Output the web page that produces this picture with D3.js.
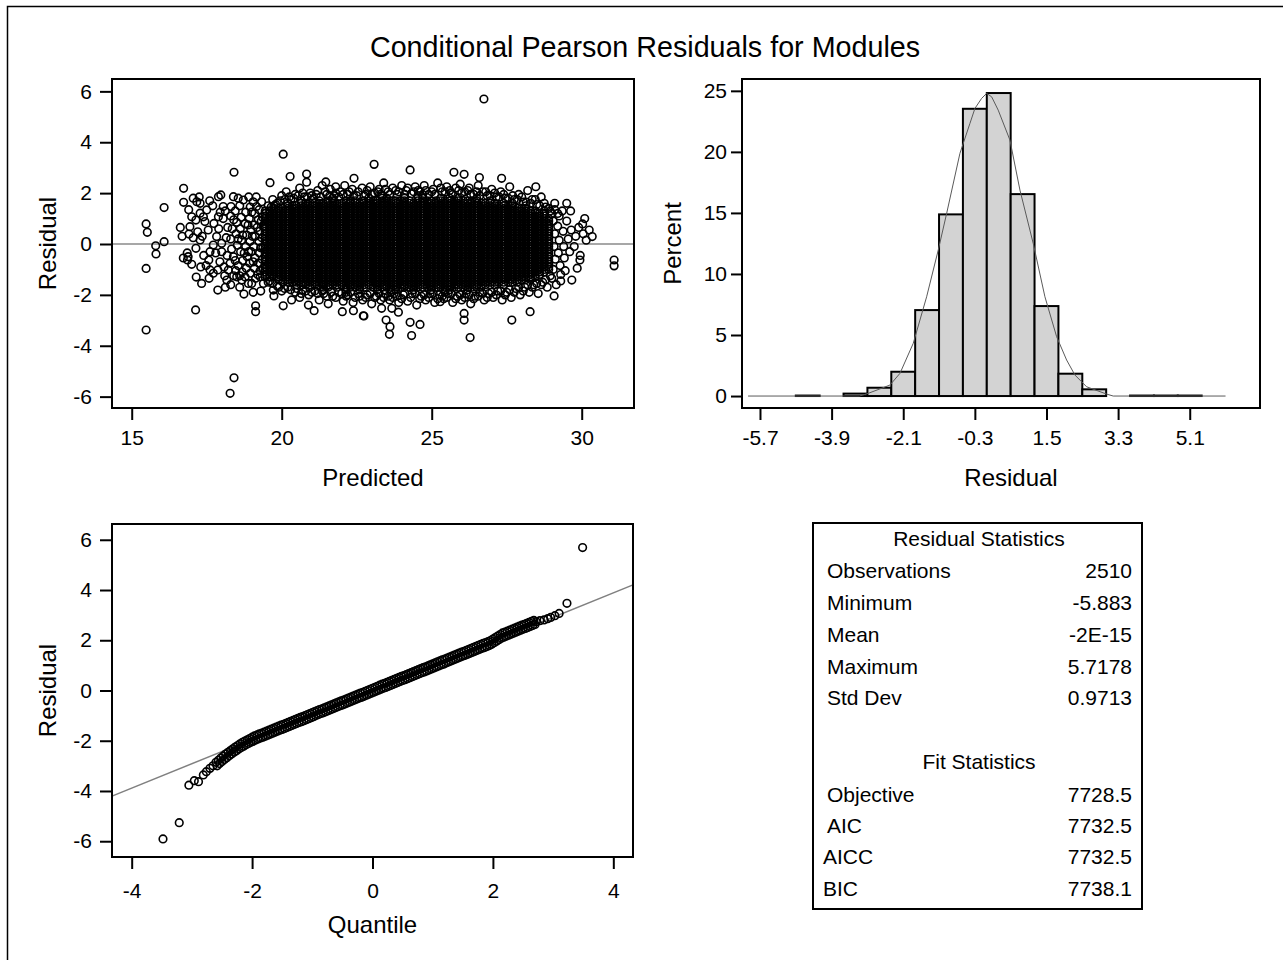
<!DOCTYPE html>
<html><head><meta charset="utf-8">
<script src="https://cdn.jsdelivr.net/npm/d3@7/dist/d3.min.js"></script>
<style>
body{margin:0;background:#fff}
svg{display:block}
</style>
</head><body>
<svg id="chart" width="1283" height="960"></svg>
<script>
// ---------------- DATA ----------------
const chartTitle = "Conditional Pearson Residuals for Modules";

// Residual vs Predicted: individual (sparse / edge) points [predicted, residual]
const sparsePoints = [
[15.48,0.79],[15.52,0.46],[15.8,-0.07],[15.81,-0.39],[16.08,0.09],[16.08,1.43],[15.48,-0.96],[15.48,-3.38],
[16.73,2.19],[16.73,1.64],[17.13,-2.59],[18.41,2.82],[18.28,-5.87],[18.41,-5.26],[16.85,-0.35],[16.88,-0.5],[16.86,-0.63],
[17.33,-1.55],[17.87,-1.81],[18.74,-1.97],[19.13,-2.43],[19.13,-2.66],[19.61,2.41],[20.05,3.53],[20.28,2.65],[20.83,2.75],
[20.83,2.43],[21.47,2.44],[21.8,2.25],[22.41,2.58],[20.05,-2.43],[19.74,-2.04],[20.33,-2.2],[20.89,-2.4],[21.08,-2.62],
[22.02,-2.66],[22.39,-2.62],[22.74,-2.83],[26.74,5.7],[23.08,3.13],[24.28,2.91],[25.74,2.82],[26.08,2.74],[26.59,2.61],
[27.33,2.58],[28.47,2.25],[29.63,1.3],[30.03,0.79],[30.35,0.29],[31.08,-0.63],[31.08,-0.86],[29.94,-0.63],[29.67,-1.42],
[29.08,-2.04],[28.28,-2.66],[27.67,-2.99],[26.28,-3.68],[26.08,-2.73],[26.08,-2.99],[25.28,-2.27],[24.33,-3.6],[24.28,-3.08],
[24.61,-3.16],[23.59,-3.55],[23.61,-3.25],[23.48,-2.99],[23.33,-2.53],[23.67,-2.53],[23.89,-2.68],[22.72,-2.82],
[16.91,0.39],[16.94,0.68],[17.05,1.8],[17.17,1.66],[17.28,1.6],[17.0,1.07],[17.14,0.94],[17.28,1.21],[17.39,1.07],[17.5,1.34],
[17.44,0.88],[17.28,0.16],[17.14,-0.17],[17.55,0.55],[17.61,-0.3],[17.57,-0.63],[17.61,-1.02],[17.58,-1.35],[17.72,-1.15],
[17.87,-1.02],[17.94,-0.7],[17.89,1.86],[17.97,1.93],[18.05,1.47],[17.89,1.07],[17.74,0.81],[17.83,0.29],[17.72,-0.04],
[18.0,0.03],[18.17,-1.42],[18.22,-1.02],[18.39,1.86],[18.55,1.8],[18.72,1.73],[18.31,1.47],[18.39,-0.5],[18.28,-0.76],
[18.5,-1.29],[18.67,-1.42],[18.89,-1.55],[19.05,1.66],[19.16,1.47],[19.33,1.66],[19.0,-1.55],[19.28,-1.29],[19.39,-1.55],[19.72,-1.81],
[18.3,1.1],[18.35,0.6],[18.3,0.2],[18.33,-0.2],[18.45,1.3],[18.5,0.85],[18.48,0.4],[18.52,-0.05],[18.55,-0.85],[18.47,-1.05],
[18.6,1.5],[18.65,1.05],[18.62,0.6],[18.66,0.15],[18.63,-0.3],[18.7,-0.65],[18.68,-1.1],[18.8,1.25],[18.78,0.8],[18.83,0.35],
[18.8,-0.1],[18.85,-0.5],[18.82,-0.95],[18.78,-1.3],[18.95,1.45],[18.92,1.0],[18.97,0.55],[18.94,0.1],[18.98,-0.3],[18.93,-0.75],
[18.96,-1.15],[19.1,1.2],[19.08,0.75],[19.12,0.3],[19.07,-0.1],[19.11,-0.55],[19.09,-0.95],[19.13,-1.35],[19.25,1.35],[19.22,0.95],
[19.27,0.5],[19.24,0.1],[19.26,-0.35],[19.23,-0.75],[19.28,-1.05],[19.36,1.05],[19.38,0.7],[19.34,0.25],[19.37,-0.15],[19.35,-0.6],
[19.38,-0.95],[18.4,-1.25],[18.2,0.65],[18.15,0.25],[18.12,1.3],[18.18,-0.45],[18.08,-0.9],[18.12,-1.7],[18.05,1.0],
[18.3,-1.6],[18.6,-1.7],[18.9,1.85],[19.15,1.85],[19.3,-1.85],[19.05,-1.9],
[18.4,0.95],[18.45,-0.65],[18.55,0.2],[18.6,-1.25],[18.7,0.35],[18.75,-0.35],[18.88,0.75],[18.9,-0.3],[19.0,1.25],[19.02,0.3],
[19.05,-0.7],[19.2,-1.2],[19.18,0.65],[19.3,-0.15],[19.32,0.9],
[16.62,0.65],[16.68,0.3],[16.72,-0.55],[17.05,0.25],[17.2,0.48],[17.35,0.3],[17.4,-0.45],[17.48,-0.85],[17.3,-0.9],[17.15,-1.3],
[17.0,-0.8],[17.8,-0.35],[17.9,0.6],[18.0,-0.3],[17.7,1.5],[17.6,1.7],[17.95,1.25],[18.1,-1.25],[16.9,1.35],[17.25,1.85],
[19.55,1.5],[19.7,1.75],[19.85,1.6],[20.0,1.9],[20.15,2.05],[20.3,1.75],[20.45,1.95],[20.6,2.2],[20.75,1.85],[20.95,2.0],
[21.05,1.78],[21.2,2.1],[21.35,2.3],[21.5,1.95],[21.62,2.15],[21.75,1.9],[21.95,2.05],[22.1,2.3],[22.2,1.95],[22.35,2.15],
[22.5,1.9],[22.68,2.2],[22.8,1.95],[22.95,2.25],[23.1,2.0],[23.25,2.15],[23.4,2.4],[23.55,2.05],[23.7,2.2],[23.85,1.95],
[24.0,2.3],[24.15,2.1],[24.32,1.98],[24.45,2.25],[24.6,2.05],[24.75,2.3],[24.9,1.95],[25.05,2.15],[25.2,2.4],[25.35,2.05],
[25.5,2.25],[25.65,2.0],[25.8,2.2],[25.95,2.35],[26.1,2.05],[26.25,2.2],[26.4,1.95],[26.55,2.3],[26.7,2.05],[26.85,1.9],
[27.0,2.15],[27.15,1.85],[27.3,2.05],[27.45,1.8],[27.6,2.25],[27.75,1.75],[27.9,1.95],[28.05,1.65],[28.2,2.1],[28.35,1.75],
[28.5,1.55],[28.65,1.85],[28.8,1.45],[28.95,1.3],[29.1,1.6],[29.25,1.1],
[19.65,1.45],[19.8,1.55],[19.95,1.7],[20.1,1.75],[20.25,1.85],[20.4,1.8],[20.55,1.9],[20.7,2.0],[20.85,1.85],[21.0,1.9],
[21.15,1.95],[21.3,1.85],[21.45,2.05],[21.6,1.9],[21.8,2.0],[21.9,1.85],[22.05,1.95],[22.25,2.05],[22.4,1.9],[22.55,2.05],
[22.75,1.9],[22.85,2.1],[23.0,1.95],[23.2,2.05],[23.3,1.95],[23.45,2.15],[23.6,1.95],[23.8,2.1],[23.9,2.05],[24.1,1.95],
[24.2,2.2],[24.4,2.05],[24.55,2.1],[24.7,1.95],[24.8,2.1],[25.0,2.05],[25.1,1.95],[25.3,2.2],[25.45,2.05],[25.6,2.1],
[25.7,1.95],[25.9,2.1],[26.0,2.0],[26.2,2.1],[26.3,1.95],[26.5,2.05],[26.6,1.9],[26.8,2.05],[26.95,1.9],[27.1,2.0],
[27.25,1.85],[27.4,1.95],[27.55,1.8],[27.7,1.9],[27.85,1.75],[28.0,1.85],[28.15,1.65],[28.3,1.6],[28.45,1.75],[28.6,1.5],
[28.75,1.6],[28.9,1.4],[29.0,1.2],
[19.6,-1.45],[19.85,-1.65],[20.0,-1.85],[20.2,-1.7],[20.45,-1.9],[20.6,-2.1],[20.7,-1.8],[20.9,-2.0],[21.1,-1.85],[21.25,-2.2],
[21.4,-1.95],[21.55,-2.35],[21.7,-2.05],[21.9,-1.9],[22.05,-2.25],[22.2,-2.0],[22.38,-2.3],[22.55,-1.95],[22.7,-2.2],[22.85,-2.0],
[23.0,-2.35],[23.15,-2.05],[23.3,-2.2],[23.45,-1.95],[23.6,-2.2],[23.75,-1.95],[23.9,-2.3],[24.05,-2.0],[24.2,-2.25],[24.35,-1.95],
[24.5,-2.4],[24.65,-2.05],[24.8,-2.2],[24.95,-1.95],[25.1,-2.3],[25.25,-2.0],[25.4,-2.15],[25.55,-1.95],[25.7,-2.3],[25.85,-2.05],
[26.0,-2.2],[26.15,-1.95],[26.3,-2.35],[26.45,-2.05],[26.6,-1.9],[26.75,-2.2],[26.9,-1.95],[27.05,-2.1],[27.2,-1.85],[27.35,-2.2],
[27.5,-1.9],[27.65,-2.1],[27.8,-1.75],[27.95,-2.0],[28.1,-1.7],[28.25,-1.9],[28.4,-1.6],[28.55,-1.95],[28.7,-1.5],[28.85,-1.7],
[29.0,-1.35],[29.15,-1.6],[29.3,-1.2],
[19.55,-1.5],[19.7,-1.55],[19.9,-1.7],[20.1,-1.75],[20.3,-1.8],[20.5,-1.75],[20.65,-1.95],[20.8,-1.85],[21.0,-1.9],[21.2,-1.95],
[21.35,-1.85],[21.5,-2.05],[21.65,-1.9],[21.8,-2.1],[22.0,-1.95],[22.15,-2.05],[22.3,-1.9],[22.45,-2.1],[22.6,-2.05],[22.8,-2.1],
[22.95,-1.95],[23.1,-2.1],[23.25,-1.95],[23.4,-2.1],[23.55,-2.05],[23.7,-2.1],[23.85,-2.05],[24.0,-2.15],[24.1,-1.95],[24.3,-2.1],
[24.45,-1.95],[24.6,-2.15],[24.75,-2.0],[24.9,-2.1],[25.05,-1.95],[25.2,-2.15],[25.35,-2.05],[25.5,-2.1],[25.65,-1.95],[25.8,-2.15],
[25.95,-2.0],[26.1,-2.1],[26.25,-2.0],[26.4,-2.15],[26.55,-2.05],[26.7,-1.95],[26.85,-2.1],[27.0,-1.9],[27.15,-2.0],[27.3,-1.85],
[27.45,-2.0],[27.6,-1.8],[27.75,-1.9],[27.9,-1.7],[28.05,-1.85],[28.2,-1.6],[28.35,-1.7],[28.5,-1.55],[28.65,-1.6],[28.8,-1.4],[28.95,-1.25],
[29.05,0.9],[29.1,0.4],[29.08,-0.1],[29.12,-0.6],[29.05,-1.0],[29.2,0.7],[29.25,0.15],[29.22,-0.35],[29.28,-0.85],[29.35,1.3],
[29.38,0.5],[29.4,-0.1],[29.42,-0.55],[29.5,0.9],[29.55,0.2],[29.6,-0.3],[29.65,0.55],[29.75,-0.1],[29.8,0.3],[29.9,0.65],
[29.95,-0.45],[30.05,0.4],[30.15,0.15],[30.25,0.55],[29.3,-1.45],[29.45,-1.05],[29.2,1.2],[29.1,1.35],[29.5,1.6],[30.1,1.0],[29.85,-0.95]
];

// Dense core of the cloud: predicted value of each column and the residuals in it
const corePredicted = [19.45,19.6,19.74,19.9,20.04,20.2,20.35,20.49,20.65,20.8,20.94,21.1,21.25,21.39,21.55,21.7,21.84,22.0,22.15,22.29,
22.45,22.6,22.74,22.9,23.05,23.19,23.35,23.5,23.64,23.8,23.95,24.09,24.25,24.4,24.54,24.7,24.85,24.99,25.15,25.3,
25.44,25.6,25.75,25.89,26.05,26.2,26.34,26.5,26.65,26.79,26.95,27.1,27.24,27.4,27.55,27.69,27.85,28.0,28.14,28.3,
28.45,28.59,28.75,28.9];
const coreResiduals = [
"-1.3 -1.2 -1.1 -1 -.9 -.8 -.7 -.6 -.5 -.4 -.3 -.2 -.1 0 .1 .2 .3 .4 .5 .6 .7 .8 .9 1 1.1 1.2 1.3",
"-1.3 -1.2 -1.1 -1 -.9 -.8 -.7 -.6 -.5 -.4 -.3 -.2 -.1 0 .1 .2 .3 .4 .5 .6 .7 .8 .9 1 1.1 1.2 1.3",
"-1.3 -1.2 -1.1 -1 -.9 -.8 -.7 -.6 -.5 -.4 -.3 -.2 -.1 0 .1 .2 .3 .4 .5 .6 .7 .8 .9 1 1.1 1.2 1.3 1.4 1.5",
"-1.4 -1.3 -1.2 -1.1 -1 -.9 -.8 -.7 -.6 -.5 -.4 -.3 -.2 -.1 0 .1 .2 .3 .4 .5 .6 .7 .8 .9 1 1.1 1.2 1.3 1.4",
"-1.5 -1.4 -1.3 -1.2 -1.1 -1 -.9 -.8 -.7 -.6 -.5 -.4 -.3 -.2 -.1 0 .1 .2 .3 .4 .5 .6 .7 .8 .9 1 1.1 1.2 1.3 1.4",
"-1.5 -1.4 -1.3 -1.2 -1.1 -1 -.9 -.8 -.7 -.6 -.5 -.4 -.3 -.2 -.1 0 .1 .2 .3 .4 .5 .6 .7 .8 .9 1 1.1 1.2 1.3 1.4 1.5 1.6",
"-1.5 -1.4 -1.3 -1.2 -1.1 -1 -.9 -.8 -.7 -.6 -.5 -.4 -.3 -.2 -.1 0 .1 .2 .3 .4 .5 .6 .7 .8 .9 1 1.1 1.2 1.3 1.4 1.5",
"-1.6 -1.5 -1.4 -1.3 -1.2 -1.1 -1 -.9 -.8 -.7 -.6 -.5 -.4 -.3 -.2 -.1 0 .1 .2 .3 .4 .5 .6 .7 .8 .9 1 1.1 1.2 1.3 1.4 1.5",
"-1.6 -1.5 -1.4 -1.3 -1.2 -1.1 -1 -.9 -.8 -.7 -.6 -.5 -.4 -.3 -.2 -.1 0 .1 .2 .3 .4 .5 .6 .7 .8 .9 1 1.1 1.2 1.3 1.4 1.5 1.6 1.7",
"-1.6 -1.5 -1.4 -1.3 -1.2 -1.1 -1 -.9 -.8 -.7 -.6 -.5 -.4 -.3 -.2 -.1 0 .1 .2 .3 .4 .5 .6 .7 .8 .9 1 1.1 1.2 1.3 1.4 1.5 1.6",
"-1.7 -1.6 -1.5 -1.4 -1.3 -1.2 -1.1 -1 -.9 -.8 -.7 -.6 -.5 -.4 -.3 -.2 -.1 0 .1 .2 .3 .4 .5 .6 .7 .8 .9 1 1.1 1.2 1.3 1.4 1.5 1.6",
"-1.6 -1.5 -1.4 -1.3 -1.2 -1.1 -1 -.9 -.8 -.7 -.6 -.5 -.4 -.3 -.2 -.1 0 .1 .2 .3 .4 .5 .6 .7 .8 .9 1 1.1 1.2 1.3 1.4 1.5 1.6",
"-1.6 -1.5 -1.4 -1.3 -1.2 -1.1 -1 -.9 -.8 -.7 -.6 -.5 -.4 -.3 -.2 -.1 0 .1 .2 .3 .4 .5 .6 .7 .8 .9 1 1.1 1.2 1.3 1.4 1.5 1.6 1.7",
"-1.8 -1.7 -1.6 -1.5 -1.4 -1.3 -1.2 -1.1 -1 -.9 -.8 -.7 -.6 -.5 -.4 -.3 -.2 -.1 0 .1 .2 .3 .4 .5 .6 .7 .8 .9 1 1.1 1.2 1.3 1.4 1.5 1.6",
"-1.7 -1.6 -1.5 -1.4 -1.3 -1.2 -1.1 -1 -.9 -.8 -.7 -.6 -.5 -.4 -.3 -.2 -.1 0 .1 .2 .3 .4 .5 .6 .7 .8 .9 1 1.1 1.2 1.3 1.4 1.5 1.6 1.7",
"-1.6 -1.5 -1.4 -1.3 -1.2 -1.1 -1 -.9 -.8 -.7 -.6 -.5 -.4 -.3 -.2 -.1 0 .1 .2 .3 .4 .5 .6 .7 .8 .9 1 1.1 1.2 1.3 1.4 1.5 1.6 1.7 1.8",
"-1.7 -1.6 -1.5 -1.4 -1.3 -1.2 -1.1 -1 -.9 -.8 -.7 -.6 -.5 -.4 -.3 -.2 -.1 0 .1 .2 .3 .4 .5 .6 .7 .8 .9 1 1.1 1.2 1.3 1.4 1.5 1.6",
"-1.6 -1.5 -1.4 -1.3 -1.2 -1.1 -1 -.9 -.8 -.7 -.6 -.5 -.4 -.3 -.2 -.1 0 .1 .2 .3 .4 .5 .6 .7 .8 .9 1 1.1 1.2 1.3 1.4 1.5 1.6",
"-1.9 -1.8 -1.7 -1.6 -1.5 -1.4 -1.3 -1.2 -1.1 -1 -.9 -.8 -.7 -.6 -.5 -.4 -.3 -.2 -.1 0 .1 .2 .3 .4 .5 .6 .7 .8 .9 1 1.1 1.2 1.3 1.4 1.5 1.6 1.7",
"-1.7 -1.6 -1.5 -1.4 -1.3 -1.2 -1.1 -1 -.9 -.8 -.7 -.6 -.5 -.4 -.3 -.2 -.1 0 .1 .2 .3 .4 .5 .6 .7 .8 .9 1 1.1 1.2 1.3 1.4 1.5 1.6 1.7",
"-1.7 -1.6 -1.5 -1.4 -1.3 -1.2 -1.1 -1 -.9 -.8 -.7 -.6 -.5 -.4 -.3 -.2 -.1 0 .1 .2 .3 .4 .5 .6 .7 .8 .9 1 1.1 1.2 1.3 1.4 1.5 1.6 1.7",
"-1.8 -1.7 -1.6 -1.5 -1.4 -1.3 -1.2 -1.1 -1 -.9 -.8 -.7 -.6 -.5 -.4 -.3 -.2 -.1 0 .1 .2 .3 .4 .5 .6 .7 .8 .9 1 1.1 1.2 1.3 1.4 1.5 1.6",
"-1.7 -1.6 -1.5 -1.4 -1.3 -1.2 -1.1 -1 -.9 -.8 -.7 -.6 -.5 -.4 -.3 -.2 -.1 0 .1 .2 .3 .4 .5 .6 .7 .8 .9 1 1.1 1.2 1.3 1.4 1.5 1.6 1.7",
"-1.6 -1.5 -1.4 -1.3 -1.2 -1.1 -1 -.9 -.8 -.7 -.6 -.5 -.4 -.3 -.2 -.1 0 .1 .2 .3 .4 .5 .6 .7 .8 .9 1 1.1 1.2 1.3 1.4 1.5 1.6 1.7 1.8",
"-1.7 -1.6 -1.5 -1.4 -1.3 -1.2 -1.1 -1 -.9 -.8 -.7 -.6 -.5 -.4 -.3 -.2 -.1 0 .1 .2 .3 .4 .5 .6 .7 .8 .9 1 1.1 1.2 1.3 1.4 1.5 1.6 1.7",
"-1.8 -1.7 -1.6 -1.5 -1.4 -1.3 -1.2 -1.1 -1 -.9 -.8 -.7 -.6 -.5 -.4 -.3 -.2 -.1 0 .1 .2 .3 .4 .5 .6 .7 .8 .9 1 1.1 1.2 1.3 1.4 1.5 1.6 1.7",
"-1.7 -1.6 -1.5 -1.4 -1.3 -1.2 -1.1 -1 -.9 -.8 -.7 -.6 -.5 -.4 -.3 -.2 -.1 0 .1 .2 .3 .4 .5 .6 .7 .8 .9 1 1.1 1.2 1.3 1.4 1.5 1.6 1.7 1.8 1.9",
"-1.7 -1.6 -1.5 -1.4 -1.3 -1.2 -1.1 -1 -.9 -.8 -.7 -.6 -.5 -.4 -.3 -.2 -.1 0 .1 .2 .3 .4 .5 .6 .7 .8 .9 1 1.1 1.2 1.3 1.4 1.5 1.6 1.7 1.8",
"-1.9 -1.8 -1.7 -1.6 -1.5 -1.4 -1.3 -1.2 -1.1 -1 -.9 -.8 -.7 -.6 -.5 -.4 -.3 -.2 -.1 0 .1 .2 .3 .4 .5 .6 .7 .8 .9 1 1.1 1.2 1.3 1.4 1.5 1.6 1.7",
"-1.8 -1.7 -1.6 -1.5 -1.4 -1.3 -1.2 -1.1 -1 -.9 -.8 -.7 -.6 -.5 -.4 -.3 -.2 -.1 0 .1 .2 .3 .4 .5 .6 .7 .8 .9 1 1.1 1.2 1.3 1.4 1.5 1.6 1.7",
"-1.7 -1.6 -1.5 -1.4 -1.3 -1.2 -1.1 -1 -.9 -.8 -.7 -.6 -.5 -.4 -.3 -.2 -.1 0 .1 .2 .3 .4 .5 .6 .7 .8 .9 1 1.1 1.2 1.3 1.4 1.5 1.6 1.7",
"-1.7 -1.6 -1.5 -1.4 -1.3 -1.2 -1.1 -1 -.9 -.8 -.7 -.6 -.5 -.4 -.3 -.2 -.1 0 .1 .2 .3 .4 .5 .6 .7 .8 .9 1 1.1 1.2 1.3 1.4 1.5 1.6 1.7 1.8",
"-1.7 -1.6 -1.5 -1.4 -1.3 -1.2 -1.1 -1 -.9 -.8 -.7 -.6 -.5 -.4 -.3 -.2 -.1 0 .1 .2 .3 .4 .5 .6 .7 .8 .9 1 1.1 1.2 1.3 1.4 1.5 1.6 1.7",
"-1.8 -1.7 -1.6 -1.5 -1.4 -1.3 -1.2 -1.1 -1 -.9 -.8 -.7 -.6 -.5 -.4 -.3 -.2 -.1 0 .1 .2 .3 .4 .5 .6 .7 .8 .9 1 1.1 1.2 1.3 1.4 1.5 1.6",
"-1.7 -1.6 -1.5 -1.4 -1.3 -1.2 -1.1 -1 -.9 -.8 -.7 -.6 -.5 -.4 -.3 -.2 -.1 0 .1 .2 .3 .4 .5 .6 .7 .8 .9 1 1.1 1.2 1.3 1.4 1.5 1.6 1.7 1.8 1.9",
"-1.7 -1.6 -1.5 -1.4 -1.3 -1.2 -1.1 -1 -.9 -.8 -.7 -.6 -.5 -.4 -.3 -.2 -.1 0 .1 .2 .3 .4 .5 .6 .7 .8 .9 1 1.1 1.2 1.3 1.4 1.5 1.6 1.7 1.8",
"-1.7 -1.6 -1.5 -1.4 -1.3 -1.2 -1.1 -1 -.9 -.8 -.7 -.6 -.5 -.4 -.3 -.2 -.1 0 .1 .2 .3 .4 .5 .6 .7 .8 .9 1 1.1 1.2 1.3 1.4 1.5 1.6 1.7",
"-1.8 -1.7 -1.6 -1.5 -1.4 -1.3 -1.2 -1.1 -1 -.9 -.8 -.7 -.6 -.5 -.4 -.3 -.2 -.1 0 .1 .2 .3 .4 .5 .6 .7 .8 .9 1 1.1 1.2 1.3 1.4 1.5 1.6 1.7",
"-1.7 -1.6 -1.5 -1.4 -1.3 -1.2 -1.1 -1 -.9 -.8 -.7 -.6 -.5 -.4 -.3 -.2 -.1 0 .1 .2 .3 .4 .5 .6 .7 .8 .9 1 1.1 1.2 1.3 1.4 1.5 1.6 1.7",
"-1.7 -1.6 -1.5 -1.4 -1.3 -1.2 -1.1 -1 -.9 -.8 -.7 -.6 -.5 -.4 -.3 -.2 -.1 0 .1 .2 .3 .4 .5 .6 .7 .8 .9 1 1.1 1.2 1.3 1.4 1.5 1.6 1.7 1.8",
"-1.9 -1.8 -1.7 -1.6 -1.5 -1.4 -1.3 -1.2 -1.1 -1 -.9 -.8 -.7 -.6 -.5 -.4 -.3 -.2 -.1 0 .1 .2 .3 .4 .5 .6 .7 .8 .9 1 1.1 1.2 1.3 1.4 1.5 1.6 1.7",
"-1.8 -1.7 -1.6 -1.5 -1.4 -1.3 -1.2 -1.1 -1 -.9 -.8 -.7 -.6 -.5 -.4 -.3 -.2 -.1 0 .1 .2 .3 .4 .5 .6 .7 .8 .9 1 1.1 1.2 1.3 1.4 1.5 1.6 1.7 1.8",
"-1.7 -1.6 -1.5 -1.4 -1.3 -1.2 -1.1 -1 -.9 -.8 -.7 -.6 -.5 -.4 -.3 -.2 -.1 0 .1 .2 .3 .4 .5 .6 .7 .8 .9 1 1.1 1.2 1.3 1.4 1.5 1.6 1.7",
"-1.7 -1.6 -1.5 -1.4 -1.3 -1.2 -1.1 -1 -.9 -.8 -.7 -.6 -.5 -.4 -.3 -.2 -.1 0 .1 .2 .3 .4 .5 .6 .7 .8 .9 1 1.1 1.2 1.3 1.4 1.5 1.6 1.7 1.8",
"-1.7 -1.6 -1.5 -1.4 -1.3 -1.2 -1.1 -1 -.9 -.8 -.7 -.6 -.5 -.4 -.3 -.2 -.1 0 .1 .2 .3 .4 .5 .6 .7 .8 .9 1 1.1 1.2 1.3 1.4 1.5 1.6 1.7",
"-1.8 -1.7 -1.6 -1.5 -1.4 -1.3 -1.2 -1.1 -1 -.9 -.8 -.7 -.6 -.5 -.4 -.3 -.2 -.1 0 .1 .2 .3 .4 .5 .6 .7 .8 .9 1 1.1 1.2 1.3 1.4 1.5 1.6 1.7",
"-1.7 -1.6 -1.5 -1.4 -1.3 -1.2 -1.1 -1 -.9 -.8 -.7 -.6 -.5 -.4 -.3 -.2 -.1 0 .1 .2 .3 .4 .5 .6 .7 .8 .9 1 1.1 1.2 1.3 1.4 1.5 1.6 1.7",
"-1.7 -1.6 -1.5 -1.4 -1.3 -1.2 -1.1 -1 -.9 -.8 -.7 -.6 -.5 -.4 -.3 -.2 -.1 0 .1 .2 .3 .4 .5 .6 .7 .8 .9 1 1.1 1.2 1.3 1.4 1.5 1.6 1.7 1.8",
"-1.7 -1.6 -1.5 -1.4 -1.3 -1.2 -1.1 -1 -.9 -.8 -.7 -.6 -.5 -.4 -.3 -.2 -.1 0 .1 .2 .3 .4 .5 .6 .7 .8 .9 1 1.1 1.2 1.3 1.4 1.5 1.6",
"-1.6 -1.5 -1.4 -1.3 -1.2 -1.1 -1 -.9 -.8 -.7 -.6 -.5 -.4 -.3 -.2 -.1 0 .1 .2 .3 .4 .5 .6 .7 .8 .9 1 1.1 1.2 1.3 1.4 1.5 1.6",
"-1.6 -1.5 -1.4 -1.3 -1.2 -1.1 -1 -.9 -.8 -.7 -.6 -.5 -.4 -.3 -.2 -.1 0 .1 .2 .3 .4 .5 .6 .7 .8 .9 1 1.1 1.2 1.3 1.4 1.5 1.6 1.7",
"-1.6 -1.5 -1.4 -1.3 -1.2 -1.1 -1 -.9 -.8 -.7 -.6 -.5 -.4 -.3 -.2 -.1 0 .1 .2 .3 .4 .5 .6 .7 .8 .9 1 1.1 1.2 1.3 1.4 1.5 1.6",
"-1.5 -1.4 -1.3 -1.2 -1.1 -1 -.9 -.8 -.7 -.6 -.5 -.4 -.3 -.2 -.1 0 .1 .2 .3 .4 .5 .6 .7 .8 .9 1 1.1 1.2 1.3 1.4 1.5",
"-1.6 -1.5 -1.4 -1.3 -1.2 -1.1 -1 -.9 -.8 -.7 -.6 -.5 -.4 -.3 -.2 -.1 0 .1 .2 .3 .4 .5 .6 .7 .8 .9 1 1.1 1.2 1.3 1.4 1.5 1.6",
"-1.5 -1.4 -1.3 -1.2 -1.1 -1 -.9 -.8 -.7 -.6 -.5 -.4 -.3 -.2 -.1 0 .1 .2 .3 .4 .5 .6 .7 .8 .9 1 1.1 1.2 1.3 1.4 1.5",
"-1.5 -1.4 -1.3 -1.2 -1.1 -1 -.9 -.8 -.7 -.6 -.5 -.4 -.3 -.2 -.1 0 .1 .2 .3 .4 .5 .6 .7 .8 .9 1 1.1 1.2 1.3 1.4 1.5 1.6",
"-1.5 -1.4 -1.3 -1.2 -1.1 -1 -.9 -.8 -.7 -.6 -.5 -.4 -.3 -.2 -.1 0 .1 .2 .3 .4 .5 .6 .7 .8 .9 1 1.1 1.2 1.3 1.4",
"-1.4 -1.3 -1.2 -1.1 -1 -.9 -.8 -.7 -.6 -.5 -.4 -.3 -.2 -.1 0 .1 .2 .3 .4 .5 .6 .7 .8 .9 1 1.1 1.2 1.3 1.4",
"-1.4 -1.3 -1.2 -1.1 -1 -.9 -.8 -.7 -.6 -.5 -.4 -.3 -.2 -.1 0 .1 .2 .3 .4 .5 .6 .7 .8 .9 1 1.1 1.2 1.3 1.4 1.5",
"-1.4 -1.3 -1.2 -1.1 -1 -.9 -.8 -.7 -.6 -.5 -.4 -.3 -.2 -.1 0 .1 .2 .3 .4 .5 .6 .7 .8 .9 1 1.1 1.2 1.3",
"-1.3 -1.2 -1.1 -1 -.9 -.8 -.7 -.6 -.5 -.4 -.3 -.2 -.1 0 .1 .2 .3 .4 .5 .6 .7 .8 .9 1 1.1 1.2 1.3",
"-1.2 -1.1 -1 -.9 -.8 -.7 -.6 -.5 -.4 -.3 -.2 -.1 0 .1 .2 .3 .4 .5 .6 .7 .8 .9 1 1.1 1.2",
"-1.1 -1 -.9 -.8 -.7 -.6 -.5 -.4 -.3 -.2 -.1 0 .1 .2 .3 .4 .5 .6 .7 .8 .9 1 1.1 1.2 1.3",
"-1 -.9 -.8 -.7 -.6 -.5 -.4 -.3 -.2 -.1 0 .1 .2 .3 .4 .5 .6 .7 .8 .9 1"
];

const scatterXTicks = [15, 20, 25, 30];
const residualYTicks = [-6, -4, -2, 0, 2, 4, 6];

// Histogram of residuals: bin midpoints (width 0.6) and percent
const binWidth = 0.6;
const binMidpoints = [-4.5, -3.3, -2.7, -2.1, -1.5, -0.9, -0.3, 0.3, 0.9, 1.5, 2.1, 2.7, 3.9, 4.5, 5.1];
const binPercent   = [0.04, 0.2, 0.68, 1.99, 7.04, 14.88, 23.53, 24.82, 16.54, 7.37, 1.83, 0.55, 0.04, 0.04, 0.04];
// density curve over the histogram
const densityX = [-6.0, -3.2, -2.979, -2.434, -2.182, -1.848, -1.512, -1.22, -1.009, -0.675, -0.424, -0.298, -0.13, -0.004, 0.122, 0.287, 0.581, 0.833, 1.167, 1.461, 1.755, 2.006, 2.215, 2.508, 3.011, 3.177, 6.0];
const densityY = [0, 0, 0.22, 0.9, 1.86, 4.32, 8.13, 11.96, 14.96, 19.88, 22.33, 23.56, 24.38, 24.79, 24.51, 23.42, 20.97, 16.87, 12.5, 8.13, 4.86, 2.95, 1.72, 0.76, 0.16, 0, 0];
const histXTicks = [-5.7, -3.9, -2.1, -0.3, 1.5, 3.3, 5.1];
const histYTicks = [0, 5, 10, 15, 20, 25];

// Q-Q plot points [normal quantile, residual]
const qqPoints = [
[-3.48,-5.91],[-3.21,-5.26],[-3.05,-3.77],[-2.96,-3.59],[-2.89,-3.63],[-2.81,-3.36],[-2.76,-3.23],[-2.7,-3.1],[-2.65,-3.0],
[-2.6,-2.86],[-2.58,-3.0],[-2.56,-2.78],[-2.54,-2.91],[-2.52,-2.69],[-2.5,-2.83],[-2.48,-2.61],[-2.46,-2.75],[-2.44,-2.53],[-2.42,-2.68],
[-2.4,-2.46],[-2.38,-2.6],[-2.36,-2.39],[-2.34,-2.53],[-2.32,-2.32],[-2.3,-2.46],[-2.28,-2.25],[-2.26,-2.4],[-2.24,-2.19],[-2.22,-2.33],
[-2.2,-2.12],[-2.18,-2.27],[-2.16,-2.06],[-2.14,-2.22],[-2.12,-2.01],[-2.1,-2.16],[-2.08,-1.96],[-2.06,-2.11],[-2.04,-1.91],[-2.02,-2.06],
[-2,-1.86],[-1.98,-2.02],[-1.96,-1.81],[-1.94,-1.97],[-1.92,-1.77],[-1.9,-1.93],[-1.88,-1.73],[-1.86,-1.89],[-1.84,-1.7],[-1.82,-1.86],
[-1.8,-1.66],[-1.78,-1.82],[-1.76,-1.62],[-1.74,-1.78],[-1.72,-1.58],[-1.7,-1.74],[-1.68,-1.54],[-1.66,-1.7],[-1.64,-1.5],[-1.62,-1.66],
[-1.6,-1.46],[-1.58,-1.62],[-1.56,-1.42],[-1.54,-1.58],[-1.52,-1.38],[-1.5,-1.55],[-1.48,-1.35],[-1.46,-1.51],[-1.44,-1.31],[-1.42,-1.47],
[-1.4,-1.27],[-1.38,-1.43],[-1.36,-1.23],[-1.34,-1.39],[-1.32,-1.19],[-1.3,-1.35],[-1.28,-1.15],[-1.26,-1.31],[-1.24,-1.11],[-1.22,-1.27],
[-1.2,-1.07],[-1.18,-1.24],[-1.16,-1.04],[-1.14,-1.2],[-1.12,-1.0],[-1.1,-1.16],[-1.08,-0.96],[-1.06,-1.12],[-1.04,-0.92],[-1.02,-1.08],
[-1,-0.88],[-0.98,-1.04],[-0.96,-0.84],[-0.94,-1.0],[-0.92,-0.8],[-0.9,-0.96],[-0.88,-0.76],[-0.86,-0.92],[-0.84,-0.73],[-0.82,-0.89],
[-0.8,-0.69],[-0.78,-0.85],[-0.76,-0.65],[-0.74,-0.81],[-0.72,-0.61],[-0.7,-0.77],[-0.68,-0.57],[-0.66,-0.73],[-0.64,-0.53],[-0.62,-0.69],
[-0.6,-0.49],[-0.58,-0.65],[-0.56,-0.45],[-0.54,-0.61],[-0.52,-0.41],[-0.5,-0.58],[-0.48,-0.38],[-0.46,-0.54],[-0.44,-0.34],[-0.42,-0.5],
[-0.4,-0.3],[-0.38,-0.46],[-0.36,-0.26],[-0.34,-0.42],[-0.32,-0.22],[-0.3,-0.38],[-0.28,-0.18],[-0.26,-0.34],[-0.24,-0.14],[-0.22,-0.3],
[-0.2,-0.1],[-0.18,-0.27],[-0.16,-0.07],[-0.14,-0.23],[-0.12,-0.03],[-0.1,-0.19],[-0.08,0.01],[-0.06,-0.15],[-0.04,0.05],[-0.02,-0.11],
[0,0.09],[0.02,-0.07],[0.04,0.13],[0.06,-0.03],[0.08,0.17],[0.1,0.01],[0.12,0.21],[0.14,0.05],[0.16,0.25],[0.18,0.09],
[0.2,0.28],[0.22,0.12],[0.24,0.32],[0.26,0.16],[0.28,0.36],[0.3,0.2],[0.32,0.4],[0.34,0.24],[0.36,0.44],[0.38,0.28],
[0.4,0.48],[0.42,0.32],[0.44,0.52],[0.46,0.36],[0.48,0.56],[0.5,0.4],[0.52,0.59],[0.54,0.43],[0.56,0.63],[0.58,0.47],
[0.6,0.67],[0.62,0.51],[0.64,0.71],[0.66,0.55],[0.68,0.75],[0.7,0.59],[0.72,0.79],[0.74,0.63],[0.76,0.83],[0.78,0.67],
[0.8,0.87],[0.82,0.71],[0.84,0.91],[0.86,0.74],[0.88,0.94],[0.9,0.78],[0.92,0.98],[0.94,0.82],[0.96,1.02],[0.98,0.86],
[1,1.06],[1.02,0.9],[1.04,1.1],[1.06,0.94],[1.08,1.14],[1.1,0.98],[1.12,1.18],[1.14,1.02],[1.16,1.22],[1.18,1.05],
[1.2,1.25],[1.22,1.09],[1.24,1.29],[1.26,1.13],[1.28,1.33],[1.3,1.17],[1.32,1.37],[1.34,1.21],[1.36,1.41],[1.38,1.25],
[1.4,1.45],[1.42,1.29],[1.44,1.49],[1.46,1.33],[1.48,1.53],[1.5,1.37],[1.52,1.56],[1.54,1.4],[1.56,1.6],[1.58,1.44],
[1.6,1.64],[1.62,1.48],[1.64,1.68],[1.66,1.52],[1.68,1.72],[1.7,1.56],[1.72,1.76],[1.74,1.6],[1.76,1.8],[1.78,1.64],
[1.8,1.84],[1.82,1.68],[1.84,1.88],[1.86,1.71],[1.88,1.91],[1.9,1.75],[1.92,1.95],[1.94,1.79],[1.96,1.99],[1.98,1.84],
[2,2.05],[2.02,1.9],[2.04,2.11],[2.06,1.96],[2.08,2.17],[2.1,2.02],[2.12,2.23],[2.14,2.08],[2.16,2.29],[2.18,2.12],
[2.2,2.32],[2.22,2.16],[2.24,2.36],[2.26,2.2],[2.28,2.4],[2.3,2.24],[2.32,2.44],[2.34,2.28],[2.36,2.48],[2.38,2.32],
[2.4,2.52],[2.42,2.36],[2.44,2.56],[2.46,2.4],[2.48,2.6],[2.5,2.44],[2.52,2.63],[2.54,2.47],[2.56,2.67],[2.58,2.51],
[2.6,2.71],[2.62,2.55],[2.64,2.75],[2.66,2.59],[2.68,2.79],[2.7,2.63],
[2.72,2.74],[2.78,2.78],[2.85,2.81],[2.91,2.86],[2.96,2.91],[3.03,2.98],[3.1,3.07],[3.23,3.47],[3.49,5.69]
];
const qqLineIntercept = 0;
const qqLineSlope = 0.9713;
const qqXTicks = [-4, -2, 0, 2, 4];

// Statistics table
const residualStatLabels = ["Observations", "Minimum", "Mean", "Maximum", "Std Dev"];
const residualStatValues = ["2510", "-5.883", "-2E-15", "5.7178", "0.9713"];
const fitStatLabels = ["Objective", "AIC", "AICC", "BIC"];
const fitStatValues = ["7728.5", "7732.5", "7732.5", "7738.1"];

// ---------------- DRAWING ----------------
const FONT = "'Liberation Sans', Arial, Helvetica, sans-serif";
const svg = d3.select("#chart");
svg.append("rect").attr("width", 1283).attr("height", 960).attr("fill", "#fff");
svg.append("path").attr("d", "M7.5,960V6.5H1283").attr("fill", "none").attr("stroke", "#000").attr("stroke-width", 1.5);

svg.append("text").attr("x", 645).attr("y", 57).attr("text-anchor", "middle")
  .attr("font-family", FONT).attr("font-size", 28.7).attr("fill", "#000").text(chartTitle);

const fmt = d => String(d);
function styleAxis(sel) {
  sel.attr("font-family", FONT).attr("font-size", 21);
  sel.select(".domain").remove();
  sel.selectAll(".tick line").attr("stroke", "#000").attr("stroke-width", 2);
  sel.selectAll(".tick text").attr("fill", "#000");
}
function frame(x0, y0, x1, y1) {
  svg.append("rect").attr("x", x0).attr("y", y0).attr("width", x1 - x0).attr("height", y1 - y0)
    .attr("fill", "none").attr("stroke", "#000").attr("stroke-width", 2);
}
function label(text, x, y, rotate) {
  const t = svg.append("text").attr("font-family", FONT).attr("font-size", 24).attr("fill", "#000")
    .attr("text-anchor", "middle").text(text);
  if (rotate) t.attr("transform", `translate(${x},${y}) rotate(-90)`);
  else t.attr("x", x).attr("y", y);
}
function rings(g, pts, sx, sy) {
  g.selectAll("circle").data(pts).join("circle")
    .attr("cx", d => sx(d[0])).attr("cy", d => sy(d[1])).attr("r", 3.8)
    .attr("fill", "none").attr("stroke", "#000").attr("stroke-width", 1.6);
}

// ---- Panel 1: Residual vs Predicted ----
const P1 = {l: 112, r: 634, t: 79, b: 408};
const x1 = d3.scaleLinear().domain([14.343, 31.743]).range([P1.l, P1.r]);
const y1 = d3.scaleLinear().domain([-6.447, 6.486]).range([P1.b, P1.t]);
const scatter = sparsePoints.slice();
corePredicted.forEach((px, i) => {
  coreResiduals[i].split(" ").forEach(v => scatter.push([px, +v]));
});
svg.append("line").attr("x1", P1.l).attr("x2", P1.r).attr("y1", y1(0)).attr("y2", y1(0))
  .attr("stroke", "#8a8a8a").attr("stroke-width", 1.5);
rings(svg.append("g"), scatter, x1, y1);
frame(P1.l, P1.t, P1.r, P1.b);
svg.append("g").attr("transform", `translate(0,${P1.b})`)
  .call(d3.axisBottom(x1).tickValues(scatterXTicks).tickFormat(fmt).tickSize(12).tickPadding(10)).call(styleAxis);
svg.append("g").attr("transform", `translate(${P1.l},0)`)
  .call(d3.axisLeft(y1).tickValues(residualYTicks).tickFormat(fmt).tickSize(12).tickPadding(8)).call(styleAxis);
label("Predicted", (P1.l + P1.r) / 2, 486, false);
label("Residual", 56, (P1.t + P1.b) / 2, true);

// ---- Panel 2: Histogram ----
const P2 = {l: 742, r: 1260, t: 79, b: 408};
const x2 = d3.scaleLinear().domain([-6.152, 6.866]).range([P2.l, P2.r]);
const y2 = d3.scaleLinear().domain([-0.98, 25.97]).range([P2.b, P2.t]);
svg.append("g").selectAll("rect").data(binMidpoints.map((m, i) => [m, binPercent[i]])).join("rect")
  .attr("x", d => x2(d[0] - binWidth / 2)).attr("width", d => x2(d[0] + binWidth / 2) - x2(d[0] - binWidth / 2))
  .attr("y", d => y2(d[1])).attr("height", d => y2(0) - y2(d[1]))
  .attr("fill", "#d3d3d3").attr("stroke", "#000").attr("stroke-width", 2);
svg.append("path").datum(densityX.map((x, i) => [x, densityY[i]]))
  .attr("d", d3.line().x(d => x2(d[0])).y(d => y2(d[1])))
  .attr("fill", "none").attr("stroke", "#5a5a5a").attr("stroke-width", 1);
frame(P2.l, P2.t, P2.r, P2.b);
svg.append("g").attr("transform", `translate(0,${P2.b})`)
  .call(d3.axisBottom(x2).tickValues(histXTicks).tickFormat(d => d.toFixed(1)).tickSize(12).tickPadding(10)).call(styleAxis);
svg.append("g").attr("transform", `translate(${P2.l},0)`)
  .call(d3.axisLeft(y2).tickValues(histYTicks).tickFormat(fmt).tickSize(11).tickPadding(4)).call(styleAxis);
label("Residual", 1011, 486, false);
label("Percent", 681, (P2.t + P2.b) / 2, true);

// ---- Panel 3: Q-Q plot ----
const P3 = {l: 112, r: 633, t: 524, b: 857};
const x3 = d3.scaleLinear().domain([-4.327, 4.327]).range([P3.l, P3.r]);
const y3 = d3.scaleLinear().domain([-6.628, 6.628]).range([P3.b, P3.t]);
const qd = x3.domain();
svg.append("line")
  .attr("x1", x3(qd[0])).attr("y1", y3(qqLineIntercept + qqLineSlope * qd[0]))
  .attr("x2", x3(qd[1])).attr("y2", y3(qqLineIntercept + qqLineSlope * qd[1]))
  .attr("stroke", "#808080").attr("stroke-width", 1.5);
rings(svg.append("g"), qqPoints, x3, y3);
frame(P3.l, P3.t, P3.r, P3.b);
svg.append("g").attr("transform", `translate(0,${P3.b})`)
  .call(d3.axisBottom(x3).tickValues(qqXTicks).tickFormat(fmt).tickSize(12).tickPadding(14)).call(styleAxis);
svg.append("g").attr("transform", `translate(${P3.l},0)`)
  .call(d3.axisLeft(y3).tickValues(residualYTicks).tickFormat(fmt).tickSize(12).tickPadding(8)).call(styleAxis);
label("Quantile", (P3.l + P3.r) / 2, 933, false);
label("Residual", 56, (P3.t + P3.b) / 2, true);

// ---- Panel 4: statistics table ----
const T = {l: 813, r: 1142, t: 523, b: 909};
svg.append("rect").attr("x", T.l).attr("y", T.t).attr("width", T.r - T.l).attr("height", T.b - T.t)
  .attr("fill", "#fff").attr("stroke", "#000").attr("stroke-width", 2);
const tg = svg.append("g").attr("font-family", FONT).attr("font-size", 21).attr("fill", "#000");
function tText(txt, x, y, anchor) {
  tg.append("text").attr("x", x).attr("y", y).attr("text-anchor", anchor).attr("fill", "#000").text(txt);
}
tText("Residual Statistics", 979, 546, "middle");
const rowY1 = [578, 610, 642, 674, 705];
residualStatLabels.forEach((s, i) => { tText(s, 827, rowY1[i], "start"); tText(residualStatValues[i], 1132, rowY1[i], "end"); });
tText("Fit Statistics", 979, 769, "middle");
const rowY2 = [802, 833, 864, 896];
const fitX = [827, 827, 823, 823];
fitStatLabels.forEach((s, i) => { tText(s, fitX[i], rowY2[i], "start"); tText(fitStatValues[i], 1132, rowY2[i], "end"); });
</script>
</body></html>
